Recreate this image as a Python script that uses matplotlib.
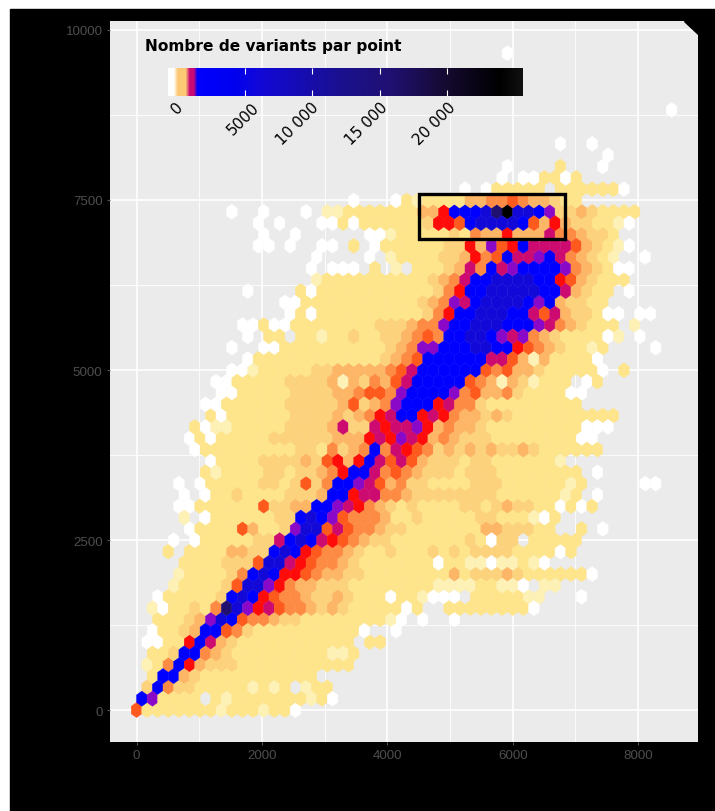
import matplotlib
matplotlib.use('Agg')
import matplotlib.pyplot as plt
import numpy as np
from matplotlib.colors import LinearSegmentedColormap, Normalize
from matplotlib.patches import Polygon, Rectangle

W, H = 715, 812

# count level of each letter in the cell strings below
level_values = {'w': 0, 'c': 30, 'y': 80, 'a': 150, 'o': 260, 'O': 380, 'r': 500, 'R': 620,
                'm': 760, 'p': 950, 'b': 1250, 'n': 6000, 'd': 16000, 'k': 24000}

# hex rows from the bottom, '.' = empty cell
row_ids = list(range(51)) + [53, 58]
row_starts = [0, 0, 1, 1, 1, 1, 1, 1, 2, 1, 2, 3, 4, 4, 3, 3, 5, 4, 4, 4, 4, 6, 7, 5, 5, 5, 7, 6, 8, 7, 9,
              10, 9, 10, 10, 14, 14, 10, 17, 16, 17, 11, 12, 11, 9, 20, 31, 34, 35, 44, 40, 50, 35]
row_cells = [
    'ryyyyyyycyyycyyw',
    'bpyyyy.ycyyyyyyycyw',
    'abOaayyyyycycy.cyy',
    'ybboayyyyyyyyyyy',
    'cyObRoaaayyyyyyyyyyy',
    'yyabbOoayyyyyyyyyccy',
    'wwyyRbmoayyyyyyyyyyy.yy',
    'wyyaobbrOayyyyyyyyyyw..w',
    'yyyaopnbrOOoaayyyyyyyycw.w..w',
    'cwyyayOdnpRmrOOoaoayyyyywy..yyyyyyyyw',
    'wyyyyyabnbRrOOoaaoayyywyycwww.yyyyycc...w',
    'cyyyyarnnpROooaaayyyyyyyyccccyyccw.cc',
    'cyyyyaObnbRRrOooaayyyyyyyyoyaaaoayyyyyyw',
    'yyyyaaarnnmRrOOoayyyyyyywyyccwccycw',
    'y.yyyyooaabnbRrOOoayyayyyayayaaaayyyywy',
    'w.wyyyyyaambnbmRrOoaayyyyyyyaywaa.yyyyy',
    'wyyyyroyyapnnrmrOOoaayyyyyyyooaaayy..y.w',
    'c.wyyyyyyaabnbprOOOoyyayyyyyaayyycwy',
    'wwyyyyyyraaoobbpmROoayayyyyaayaoaayywywy',
    'w.wyyayyyyaaaobbRmmOOoaaaaaaaayyyyyycy.w',
    'w.wyyyyyaayaraObbpmroOaayyyyaaayyyyyycy.....ww',
    'ycyyyyaayaaoORbbmOrOoaaayaaayyyyyyyy.w',
    'wyyyyaaaaoarRoRbmrmroaaayaayyyyyyc',
    'wyyyyyyyyyaayOaoObOmRrOaoaoaoaaoayyyyyy',
    'wywyyyyyaaaaaaoooRmRpmRoOoaaayyyyyyyyww',
    'ywccyyyyyaaaaomaamRmmpRoOooayyyyyyyyywww',
    'ywyyyyyyaaaaoaoORmbbRmROooaoayyyyyyyyyy',
    'wwyyyyyyaaaaaoraoOpbbbRmOOayyyyyyyyy',
    'wwyyyyyaaaaooOrrOpbbbbpOrooOayyyyww',
    'wwyyyyyaaaaocoaOormbbbbbrOocoacyyy.wy',
    'wwcyyyyyaaoooooOrmbbbbbbrOrooayyyyyw.y',
    'wyyyyyyyyyyyyaoOrbbbbbbmmrocoyyyyw',
    'w..wwyyyyyyyyyyaoOppbbbnnbbRrOoayycy....w',
    'w.yy.yycyyayyaaoOrObbnnbpmpOoayyyywc.w',
    'wwywwyyyyyyyyaaaoOOpbbnnnbbbpmOoayyy.c',
    'wywyyyyyyyyyyaORbbnnnbbmrmoaayww.ww',
    'wwyyyyyyyyyyyaoOpmbnnnnbpboaayy',
    'w....ywyyyyyyyyyyyaORbbnnnnnbbmoayy.w',
    'cyyyyyyyyyyaoOmbbnnnnbbRroayyy',
    'w.www.y.c.yyyaomObmpbbbbpOoayww',
    'w....w.cyyyyaaoROrbmmpbmOoayc..w',
    'ww.w..ww.y.wyyyyyyaaRoprRbmmmmroaycw',
    'w..w......wwcyyyyyayOooRooomOOoaay',
    'w.w...wwywyyyyyyaRRrbnnnnbroRoaayycw',
    'w..w...w.ccyyyyyyyooRbbbndknnbpaaoayyyy',
    'w...wycyyyyooOOrOooayy',
    'w.wyyyyy.yyyyyyw',
    'w.wwyywy',
    'w....y...w',
    'w',
    'w..w',
    'w',
    'w',
]

x_ticks = [0, 2000, 4000, 6000, 8000]
y_ticks = [0, 2500, 5000, 7500, 10000]
legend_ticks = [0, 5000, 10000, 15000, 20000]
legend_labels = ['0', '5000', '10 000', '15 000', '20 000']

hex_dx = 169.0
hex_dy = 166.5

cmap_stops = [(0, '#FFFFFF'), (30, '#FEF0B0'), (80, '#FEE58A'), (150, '#FDD27C'), (260, '#FDB566'),
              (380, '#FE8A42'), (500, '#FF5A1E'), (620, '#FF0A0A'), (760, '#CC0A70'), (950, '#8A08C8'),
              (1250, '#0000FF'), (4000, '#0000F0'), (6000, '#1208D8'), (12000, '#1A1090'),
              (16000, '#201070'), (20000, '#150A30'), (24000, '#000000'), (25600, '#101010')]
vmax = 25600
cmap = LinearSegmentedColormap.from_list('variants', [(v / vmax, c) for v, c in cmap_stops], N=8192)
norm = Normalize(0, vmax)


def px_axes(fig, left, top, right, bottom, **kw):
    return fig.add_axes([left / W, 1 - bottom / H, (right - left) / W, (bottom - top) / H], **kw)


xs, ys, counts = [], [], []
for row, start, cells in zip(row_ids, row_starts, row_cells):
    for i, cell in enumerate(cells):
        if cell == '.':
            continue
        xs.append((start + i + (row % 2) / 2) * hex_dx)
        ys.append(row * hex_dy)
        counts.append(level_values[cell])

fig = plt.figure(figsize=(W / 100, H / 100), dpi=100, facecolor='white')
fig.add_artist(Rectangle((10 / W, 0), 1, 1 - 10 / H, transform=fig.transFigure, color='black', zorder=-1))

ax = px_axes(fig, 110, 22, 698, 743, facecolor='#EBEBEB')
ax.set_axisbelow(True)
ax.hexbin(xs, ys, C=counts, gridsize=(60, 40), extent=(0, 60 * hex_dx, 0, 40 * 2 * hex_dy),
          cmap=cmap, norm=norm, linewidths=0.3, edgecolors='face', zorder=2)
ax.set_xlim(-423, 8955)
ax.set_ylim(-470, 10132)

ax.set_xticks(x_ticks)
ax.set_yticks(y_ticks)
ax.set_xticks([1000, 3000, 5000, 7000], minor=True)
ax.set_yticks([1250, 3750, 6250, 8750], minor=True)
ax.grid(True, which='major', color='white', lw=1.2)
ax.grid(True, which='minor', color='white', lw=0.6)
ax.tick_params(which='minor', length=0)
ax.tick_params(which='major', length=2.4, width=0.8, color='#555555', labelcolor='#4D4D4D',
               labelsize=9.6, pad=3)
for lab in ax.get_xticklabels() + ax.get_yticklabels():
    lab.set_fontfamily('Liberation Sans')
for s in ax.spines.values():
    s.set_visible(False)

ax.add_patch(Rectangle((4510, 6926), 2325, 662, fill=False, edgecolor='black', lw=2.4, zorder=5))

# clipped panel corner top right
fig.add_artist(Polygon([(684 / W, 1 - 22 / H), (699 / W, 1 - 22 / H), (699 / W, 1 - 36 / H)],
                       transform=fig.transFigure, color='black'))

# legend drawn by hand inside the panel, coarse bins at the low end like the original bar
cax = px_axes(fig, 168, 69, 523, 97)
bar_vals = np.linspace(-700, vmax, 90)
bar_vals = np.where(bar_vals < -190, 0, np.where(bar_vals < 550, 190, np.where(bar_vals < 1150, 770, bar_vals)))
cax.imshow(cmap(norm(bar_vals)).reshape(1, -1, 4), aspect='auto', extent=(-700, vmax, 0, 1),
           interpolation='bilinear')
cax.vlines(legend_ticks[1:], 0, 0.2, color='white', lw=0.8)
cax.vlines(legend_ticks[1:], 0.8, 1, color='white', lw=0.8)
cax.axis('off')

fig.text(145 / W, 1 - 47 / H, 'Nombre de variants par point', fontsize=11.1, fontweight='bold',
         color='black', va='center', ha='left')

legend_label_px = [177, 243, 298, 367, 435]
for x_px, lab in zip(legend_label_px, legend_labels):
    fig.text(x_px / W, 1 - 100 / H, lab, rotation=45, ha='center', va='top', fontsize=11, color='black')

fig.savefig('out.png', dpi=100, facecolor=fig.get_facecolor())
